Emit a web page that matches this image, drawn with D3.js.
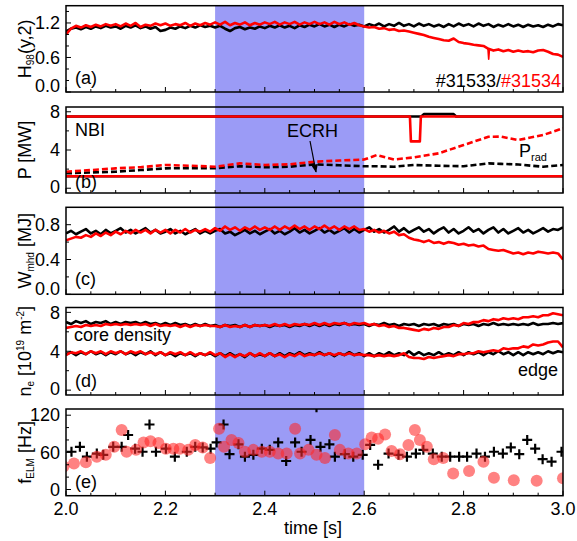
<!DOCTYPE html>
<html>
<head>
<meta charset="utf-8">
<script src="https://cdn.jsdelivr.net/npm/d3@7"></script>
<style>
  body { margin: 0; background: #fff; }
  svg text { font-family: "Liberation Sans", Arial, sans-serif; }
</style>
</head>
<body>
<div id="chart"></div>
<script>
// sample times for the traces, 10 ms steps
const times = d3.range(101).map(i => 2 + i / 100)

// (a) H98(y,2)
const h98Black = [1.05,1.10,1.12,1.09,1.13,1.10,1.14,1.11,1.15,1.12,
  1.14,1.10,1.15,1.12,1.16,1.11,1.14,1.10,1.13,1.06,
  1.08,1.12,1.10,1.14,1.11,1.15,1.12,1.16,1.13,1.15,
  1.12,1.15,1.10,1.06,1.11,1.13,1.09,1.12,1.10,1.14,
  1.11,1.15,1.12,1.16,1.12,1.15,1.11,1.16,1.13,1.17,
  1.14,1.18,1.14,1.17,1.13,1.17,1.14,1.18,1.15,1.17,
  1.14,1.18,1.15,1.19,1.14,1.18,1.15,1.20,1.15,1.18,
  1.14,1.19,1.15,1.18,1.14,1.17,1.13,1.18,1.14,1.19,
  1.15,1.18,1.14,1.19,1.15,1.18,1.13,1.17,1.14,1.18,
  1.14,1.17,1.13,1.17,1.14,1.16,1.13,1.17,1.14,1.18,1.16]
const h98Red = [1.00,1.10,1.15,1.12,1.16,1.13,1.17,1.14,1.18,1.15,
  1.18,1.14,1.19,1.15,1.20,1.13,1.17,1.15,1.19,1.16,
  1.19,1.15,1.18,1.16,1.20,1.15,1.19,1.16,1.20,1.17,
  1.21,1.17,1.22,1.16,1.20,1.17,1.21,1.16,1.20,1.17,
  1.21,1.18,1.22,1.17,1.21,1.18,1.22,1.17,1.21,1.18,
  1.22,1.18,1.21,1.17,1.22,1.18,1.21,1.17,1.20,1.16,
  1.14,1.12,1.13,1.10,1.11,1.08,1.09,1.06,1.07,1.05,
  1.03,1.01,0.99,0.96,0.94,0.92,0.90,0.89,0.93,0.87,
  0.85,0.84,0.82,0.81,0.80,0.75,0.72,0.74,0.71,0.73,
  0.70,0.72,0.70,0.71,0.69,0.72,0.73,0.70,0.66,0.65,0.61]
// short dip in the red H98 trace
const h98RedSpikeT = [2.849, 2.8505, 2.852]
const h98RedSpikeV = [0.75, 0.57, 0.74]

// (b) heating and radiated power [MW]
const nbiBlackT = [2.0, 2.715, 2.72, 2.78, 2.785, 3.0]
const nbiBlackV = [7.5, 7.5, 7.75, 7.75, 7.5, 7.5]
const nbiRedT = [2.0, 2.692, 2.694, 2.712, 2.714, 3.0]
const nbiRedV = [7.5, 7.5, 4.9, 4.9, 7.5, 7.5]
const ecrhT = [2.0, 3.0]
const ecrhBlackV = [1.25, 1.25]
const ecrhRedV = [1.25, 1.25]
const pradT = [2.00,2.05,2.10,2.15,2.20,2.25,2.30,2.35,2.40,2.45,2.50,2.55,2.60,2.625,2.66,2.70,2.75,2.80,2.85,2.875,2.91,2.96,3.00]
const pradBlack = [1.56,1.65,1.73,1.90,2.08,2.10,2.10,2.30,2.20,2.25,2.50,2.40,2.30,2.30,2.25,2.43,2.35,2.30,2.60,2.55,2.48,2.25,2.43]
const pradRed = [1.73,1.90,2.08,2.20,2.43,2.35,2.25,2.60,2.43,2.50,2.77,2.90,3.00,3.47,3.00,3.23,3.65,4.52,5.39,5.40,5.04,5.57,6.27]

// (c) Wmhd [MJ]
const wBlack = [0.70,0.73,0.69,0.72,0.75,0.70,0.73,0.69,0.74,0.70,
  0.73,0.76,0.71,0.74,0.70,0.73,0.76,0.71,0.74,0.70,
  0.72,0.75,0.70,0.73,0.69,0.72,0.75,0.70,0.73,0.70,
  0.73,0.75,0.70,0.72,0.68,0.71,0.74,0.70,0.73,0.69,
  0.72,0.75,0.70,0.73,0.69,0.72,0.76,0.71,0.74,0.70,
  0.73,0.76,0.71,0.74,0.70,0.73,0.76,0.71,0.75,0.71,
  0.74,0.77,0.72,0.75,0.71,0.74,0.78,0.72,0.76,0.71,
  0.74,0.77,0.72,0.75,0.70,0.74,0.77,0.71,0.75,0.70,
  0.73,0.77,0.72,0.75,0.70,0.74,0.77,0.71,0.75,0.70,
  0.73,0.76,0.71,0.74,0.70,0.73,0.76,0.72,0.75,0.74,0.77]
const wRed = [0.62,0.64,0.66,0.65,0.68,0.66,0.70,0.67,0.71,0.68,
  0.72,0.69,0.73,0.70,0.74,0.71,0.74,0.70,0.74,0.71,
  0.74,0.70,0.74,0.71,0.75,0.71,0.74,0.72,0.75,0.72,
  0.76,0.73,0.78,0.74,0.77,0.73,0.77,0.74,0.78,0.74,
  0.77,0.74,0.78,0.74,0.78,0.75,0.79,0.75,0.78,0.74,
  0.78,0.75,0.79,0.75,0.78,0.74,0.78,0.75,0.78,0.74,
  0.75,0.72,0.74,0.71,0.73,0.70,0.72,0.68,0.69,0.65,
  0.63,0.62,0.60,0.62,0.59,0.60,0.58,0.60,0.59,0.57,
  0.58,0.56,0.57,0.55,0.56,0.52,0.51,0.50,0.51,0.49,
  0.47,0.48,0.46,0.48,0.47,0.49,0.48,0.47,0.48,0.47,0.40]

// (d) line-integrated density [1e19 m^-2]
const coreBlack = [7.0,6.8,7.1,6.9,7.1,6.8,7.0,6.9,7.1,6.8,
  7.0,6.8,7.0,6.9,7.0,6.8,7.0,6.8,6.9,6.7,
  6.9,6.7,6.9,6.7,6.8,6.6,6.8,6.6,6.8,6.6,
  6.7,6.5,6.7,6.6,6.7,6.5,6.7,6.5,6.7,6.6,
  6.7,6.5,6.7,6.6,6.7,6.5,6.7,6.6,6.8,6.6,
  6.8,6.6,6.8,6.6,6.8,6.7,6.9,6.7,6.8,6.7,
  6.8,6.6,6.8,6.7,6.9,6.7,6.8,6.6,6.8,6.7,
  6.8,6.6,6.8,6.7,6.8,6.6,6.8,6.7,6.8,6.6,
  6.8,6.7,6.8,6.6,6.8,6.7,6.9,6.7,6.8,6.7,
  6.8,6.7,6.8,6.7,6.9,6.7,6.8,6.8,6.9,6.8,6.9]
const coreRed = [6.4,6.5,6.6,6.5,6.7,6.6,6.7,6.6,6.8,6.7,
  6.8,6.7,6.8,6.7,6.8,6.7,6.8,6.6,6.8,6.6,
  6.7,6.6,6.7,6.5,6.7,6.5,6.7,6.6,6.7,6.6,
  6.6,6.5,6.7,6.5,6.6,6.5,6.7,6.5,6.7,6.6,
  6.7,6.6,6.8,6.6,6.8,6.6,6.8,6.7,6.8,6.7,
  6.9,6.7,6.9,6.7,6.9,6.8,6.9,6.7,6.9,6.8,
  6.9,6.7,6.8,6.6,6.7,6.5,6.6,6.4,6.4,6.3,
  6.2,6.1,6.3,6.2,6.4,6.3,6.5,6.5,6.7,6.6,
  6.9,6.8,7.0,7.0,7.2,7.1,7.3,7.2,7.4,7.3,
  7.4,7.3,7.5,7.5,7.6,7.5,7.7,7.7,7.9,7.8,7.7]
const edgeBlack = [3.7,3.9,3.6,3.9,3.7,4.0,3.7,3.9,3.6,3.9,
  3.7,4.0,3.7,3.9,3.6,3.9,3.7,4.0,3.6,3.9,
  3.6,3.8,3.5,3.8,3.6,3.8,3.5,3.8,3.6,3.8,
  3.5,3.8,3.5,3.8,3.5,3.7,3.4,3.8,3.5,3.7,
  3.5,3.8,3.5,3.8,3.5,3.8,3.6,3.9,3.6,3.8,
  3.6,3.9,3.6,3.8,3.5,3.8,3.6,3.9,3.6,3.8,
  3.5,3.8,3.5,3.8,3.6,3.9,3.6,3.8,3.6,4.0,
  3.6,3.9,3.6,3.8,3.6,3.9,3.6,3.8,3.6,3.9,
  3.6,3.9,3.7,3.9,3.6,3.9,3.7,4.0,3.7,3.9,
  3.6,3.9,3.6,3.9,3.7,3.9,3.7,4.0,3.8,4.0,3.9]
const edgeRed = [3.6,3.9,3.8,4.0,3.7,4.0,3.8,4.0,3.7,4.0,
  3.8,4.0,3.7,4.0,3.8,4.0,3.7,3.9,3.7,3.9,
  3.6,3.9,3.7,3.9,3.6,3.9,3.6,3.8,3.6,3.9,
  3.6,3.8,3.4,3.7,3.4,3.7,3.5,3.8,3.5,3.8,
  3.5,3.8,3.5,3.7,3.4,3.7,3.5,3.8,3.5,3.7,
  3.6,3.8,3.6,3.8,3.6,3.8,3.6,3.8,3.6,3.7,
  3.6,3.6,3.5,3.6,3.5,3.6,3.5,3.6,3.8,3.4,
  3.3,3.3,3.2,3.4,3.3,3.4,3.5,3.6,3.5,3.7,
  3.7,3.8,3.8,4.0,3.9,4.0,4.1,4.0,4.3,4.2,
  4.3,4.3,4.5,4.4,4.7,4.6,4.7,4.9,5.0,5.0,4.4]

// (e) ELM frequency [Hz]
const elmBlackT = [2.011,2.028,2.042,2.062,2.075,2.095,2.112,2.125,2.139,2.154,2.168,2.181,2.201,2.219,2.243,2.26,2.275,2.291,
  2.303,2.317,2.329,2.347,2.36,2.377,2.394,2.41,2.427,2.443,2.461,2.474,2.492,2.504,2.512,2.53,2.541,2.561,2.578,2.597,
  2.612,2.628,2.649,2.669,2.686,2.704,2.719,2.738,2.756,2.773,2.791,2.807,2.826,2.843,2.861,2.879,2.895,2.912,2.928,2.944,2.959,2.977,2.997]
const elmBlackV = [61,69,53,58,56,69,69,88,66,61,105,61,66,53,61,69,68,66,
  76,105,57,73,53,56,66,64,76,46,76,61,80,133,69,73,53,57,53,56,
  72,40,58,56,53,58,64,58,53,53,53,53,58,53,61,58,68,57,80,66,49,45,61]
const elmRedT = [1.995,2.016,2.04,2.062,2.08,2.097,2.112,2.122,2.141,2.156,2.17,2.186,2.201,2.216,2.229,2.246,2.26,2.275,2.29,
  2.308,2.318,2.333,2.347,2.36,2.377,2.394,2.41,2.427,2.444,2.461,2.471,2.488,2.504,2.521,2.541,2.551,2.568,2.585,
  2.602,2.615,2.628,2.642,2.655,2.672,2.689,2.702,2.712,2.726,2.74,2.759,2.779,2.811,2.84,2.861,2.901,2.947,3.0]
const elmRedV = [37,42,44,53,56,69,96,61,64,76,78,75,66,66,66,64,72,68,51,
  98,69,80,75,61,64,61,61,58,58,98,58,64,56,51,88,64,58,58,
  73,84,82,89,62,57,72,96,80,69,49,51,26,30,45,19,15,14,18]

const xTicks = [2.0, 2.2, 2.4, 2.6, 2.8, 3.0]
const ecrhWindow = [2.3, 2.6]

const width = 577, height = 541
const x = d3.scaleLinear().domain([2, 3]).range([66, 563])

const panels = [
  {id: "a", top: 5.7, bottom: 92, domain: [0, 1.5], major: [0, 0.6, 1.2], minor: [0.2, 0.4, 0.8, 1.0, 1.4], fmt: d3.format(".1f"), tag: 83.5},
  {id: "b", top: 107, bottom: 193, domain: [-0.5, 8.5], major: [0, 4, 8], minor: [2, 6], fmt: d3.format("d"), tag: 188},
  {id: "c", top: 207.3, bottom: 294.3, domain: [0, 1.0], major: [0, 0.4, 0.8], minor: [0.2, 0.6], fmt: d3.format(".1f"), tag: 284.5},
  {id: "d", top: 307.5, bottom: 395, domain: [-0.5, 8.5], major: [0, 4, 8], minor: [2, 6], fmt: d3.format("d"), tag: 386.5},
  {id: "e", top: 409, bottom: 495.7, domain: [-10, 130], major: [0, 60, 120], minor: [20, 40, 80, 100], fmt: d3.format("d"), tag: 488}
]
panels.forEach(p => { p.y = d3.scaleLinear().domain(p.domain).range([p.bottom, p.top]) })
const P = Object.fromEntries(panels.map(p => [p.id, p]))

const svg = d3.select("#chart").append("svg")
  .attr("width", width).attr("height", height)

const defs = svg.append("defs")
panels.forEach(p => {
  defs.append("clipPath").attr("id", "clip-" + p.id)
    .append("rect").attr("x", x(2)).attr("y", p.top)
    .attr("width", x(3) - x(2)).attr("height", p.bottom - p.top)
})
defs.append("marker").attr("id", "arrow")
  .attr("viewBox", "0 0 10 10").attr("refX", 9).attr("refY", 5)
  .attr("markerWidth", 7).attr("markerHeight", 7).attr("orient", "auto")
  .append("path").attr("d", "M0,1L10,5L0,9Z").attr("fill", "#000")

// ECRH window, one band through all panels
svg.append("rect")
  .attr("x", x(ecrhWindow[0])).attr("y", P.a.top)
  .attr("width", x(ecrhWindow[1]) - x(ecrhWindow[0]))
  .attr("height", P.e.bottom - P.a.top)
  .attr("fill", "#9b9bf6")

function trace(p, ts, vs, color, dash, sw) {
  const line = d3.line().x(d => x(d[0])).y(d => p.y(d[1]))
  svg.append("path")
    .attr("clip-path", "url(#clip-" + p.id + ")")
    .attr("d", line(d3.zip(ts, vs)))
    .attr("fill", "none")
    .attr("stroke", color)
    .attr("stroke-width", sw || 2.6)
    .attr("stroke-linejoin", "round")
    .attr("stroke-dasharray", dash || null)
}

trace(P.a, times, h98Black, "#000")
trace(P.a, times, h98Red, "#ff0000")
trace(P.a, h98RedSpikeT, h98RedSpikeV, "#ff0000", null, 1.6)

trace(P.b, pradT, pradBlack, "#000", "6,3")
trace(P.b, pradT, pradRed, "#ff0000", "6,3")
trace(P.b, ecrhT, ecrhBlackV, "#000")
trace(P.b, ecrhT, ecrhRedV, "#ff0000")
trace(P.b, nbiBlackT, nbiBlackV, "#000")
trace(P.b, nbiRedT, nbiRedV, "#ff0000")

trace(P.c, times, wBlack, "#000")
trace(P.c, times, wRed, "#ff0000")

trace(P.d, times, coreBlack, "#000")
trace(P.d, times, edgeBlack, "#000")
trace(P.d, times, coreRed, "#ff0000")
trace(P.d, times, edgeRed, "#ff0000")

// ELM frequency markers
const ge = svg.append("g").attr("clip-path", "url(#clip-e)")
ge.selectAll("path.cross")
  .data(d3.zip(elmBlackT, elmBlackV))
  .enter().append("path")
  .attr("class", "cross")
  .attr("transform", d => "translate(" + x(d[0]) + "," + P.e.y(d[1]) + ")")
  .attr("d", "M-5,0H5M0,-5V5")
  .attr("stroke", "#000").attr("stroke-width", 2.2)
ge.selectAll("circle")
  .data(d3.zip(elmRedT, elmRedV))
  .enter().append("circle")
  .attr("cx", d => x(d[0])).attr("cy", d => P.e.y(d[1]))
  .attr("r", 6)
  .attr("fill", "rgb(255,40,40)").attr("fill-opacity", 0.58)

// frames, ticks, tick labels
panels.forEach(p => {
  const g = svg.append("g")
  g.append("rect").attr("x", x(2)).attr("y", p.top)
    .attr("width", x(3) - x(2)).attr("height", p.bottom - p.top)
    .attr("fill", "none").attr("stroke", "#000").attr("stroke-width", 1.5)
  p.major.forEach(v => {
    g.append("line").attr("x1", x(2)).attr("x2", x(2) + 5)
      .attr("y1", p.y(v)).attr("y2", p.y(v)).attr("stroke", "#000").attr("stroke-width", 1)
    g.append("text")
      .attr("x", 60).attr("y", Math.min(p.y(v), p.bottom - 6))
      .attr("dy", "0.35em").attr("text-anchor", "end")
      .attr("font-size", 18).text(p.fmt(v))
  })
  p.minor.forEach(v => {
    g.append("line").attr("x1", x(2)).attr("x2", x(2) + 3)
      .attr("y1", p.y(v)).attr("y2", p.y(v)).attr("stroke", "#000").attr("stroke-width", 1)
  })
  d3.range(21).map(i => 2 + i * 0.05).forEach((t, i) => {
    const len = i % 4 === 0 ? 5 : 3
    g.append("line").attr("x1", x(t)).attr("x2", x(t))
      .attr("y1", p.bottom).attr("y2", p.bottom - len)
      .attr("stroke", "#000").attr("stroke-width", 1)
  })
  g.append("text").attr("x", 75).attr("y", p.tag)
    .attr("font-size", 18).text("(" + p.id + ")")
})

svg.append("g").selectAll("text")
  .data(xTicks).enter().append("text")
  .attr("x", d => x(d)).attr("y", 515)
  .attr("text-anchor", "middle").attr("font-size", 18)
  .text(d => d3.format(".1f")(d))

svg.append("text").attr("x", 313).attr("y", 534)
  .attr("text-anchor", "middle").attr("font-size", 18).text("time [s]")

// y axis titles, rotated, with sub/superscripts
function yTitle(p, parts) {
  const t = svg.append("text")
    .attr("transform", "translate(31," + ((p.top + p.bottom) / 2) + ") rotate(-90)")
    .attr("text-anchor", "middle").attr("font-size", 18)
  parts.forEach(s => {
    const ts = t.append("tspan").text(s.t)
    if (s.sub) ts.attr("font-size", 10).attr("baseline-shift", "-25%")
    if (s.sup) ts.attr("font-size", 10).attr("baseline-shift", "70%")
  })
}
yTitle(P.a, [{t: "H"}, {t: "98", sub: true}, {t: "(y,2)"}])
yTitle(P.b, [{t: "P [MW]"}])
yTitle(P.c, [{t: "W"}, {t: "mhd", sub: true}, {t: " [MJ]"}])
yTitle(P.d, [{t: "n"}, {t: "e", sub: true}, {t: " [10"}, {t: "19", sup: true}, {t: " m"}, {t: "-2", sup: true}, {t: "]"}])
yTitle(P.e, [{t: "f"}, {t: "ELM", sub: true}, {t: " [Hz]"}])

// annotations
const shots = svg.append("text").attr("x", 561).attr("y", 86.5)
  .attr("text-anchor", "end").attr("font-size", 18)
shots.append("tspan").attr("fill", "#000").text("#31533/")
shots.append("tspan").attr("fill", "#ff0000").text("#31534")

svg.append("text").attr("x", 75).attr("y", 136).attr("font-size", 18).text("NBI")
svg.append("text").attr("x", 287).attr("y", 136.5).attr("font-size", 18).text("ECRH")
svg.append("line").attr("x1", 310).attr("y1", 141).attr("x2", 316).attr("y2", 172)
  .attr("stroke", "#000").attr("stroke-width", 1.2).attr("marker-end", "url(#arrow)")
svg.append("text").attr("x", 519).attr("y", 157).attr("font-size", 18).text("P")
svg.append("text").attr("x", 531).attr("y", 161).attr("font-size", 11).text("rad")

svg.append("text").attr("x", 74).attr("y", 341).attr("font-size", 18).text("core density")
svg.append("text").attr("x", 558).attr("y", 376).attr("text-anchor", "end").attr("font-size", 18).text("edge")
</script>
</body>
</html>
